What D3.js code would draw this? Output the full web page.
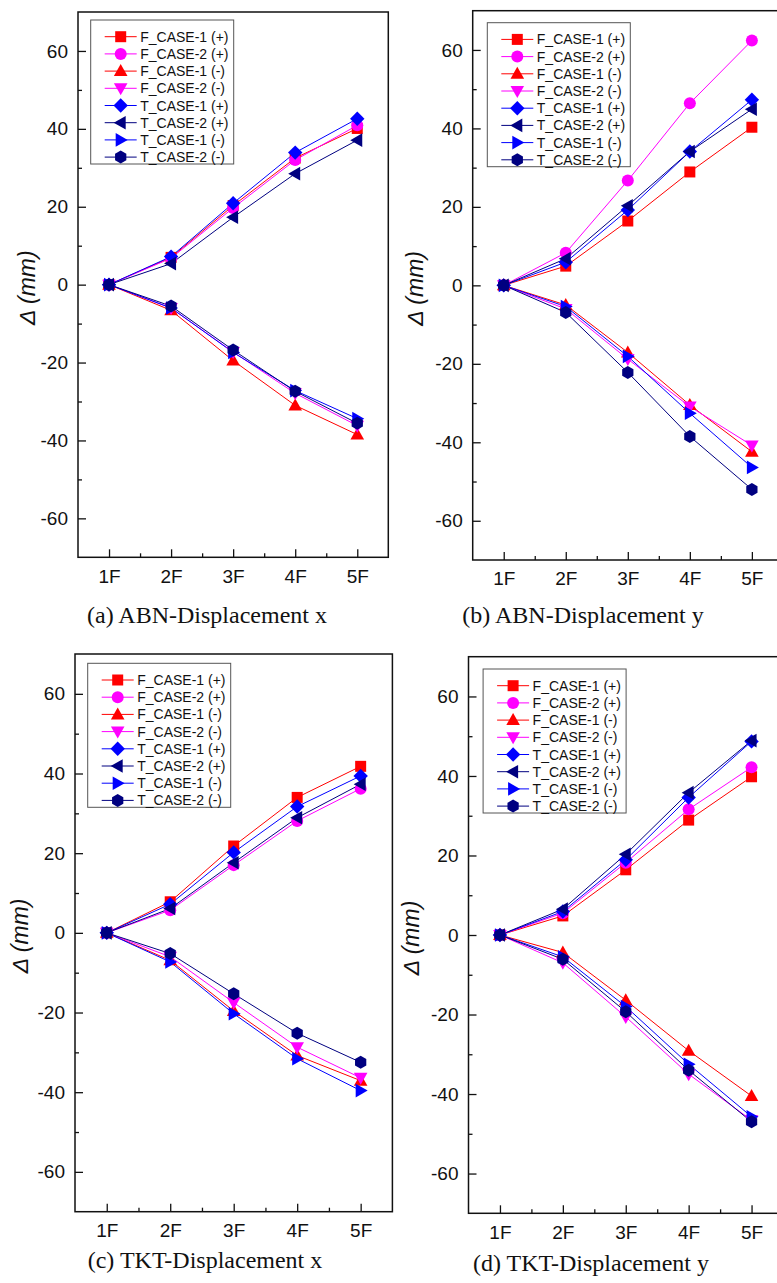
<!DOCTYPE html>
<html>
<head>
<meta charset="utf-8">
<script src="https://cdn.jsdelivr.net/npm/d3@7"></script>
<style>
  body { margin: 0; background: #fff; }
  svg { display: block; }
  .tick text { font-family: "Liberation Sans", Arial, sans-serif; font-size: 19px; fill: #111; }
  .legend text { font-family: "Liberation Sans", Arial, sans-serif; font-size: 14px; fill: #111; }
  .ylabel { font-family: "Liberation Sans", Arial, sans-serif; font-size: 23px; font-style: italic; fill: #111; }
  .caption { font-family: "Liberation Serif", "Times New Roman", serif; font-size: 24px; fill: #111; }
</style>
</head>
<body>
<svg width="777" height="1283"></svg>
<script>
const floors = ['1F', '2F', '3F', '4F', '5F'];
const seriesNames = ['F_CASE-1 (+)', 'F_CASE-2 (+)', 'F_CASE-1 (-)', 'F_CASE-2 (-)',
                     'T_CASE-1 (+)', 'T_CASE-2 (+)', 'T_CASE-1 (-)', 'T_CASE-2 (-)'];
const yTicks = [-60, -40, -20, 0, 20, 40, 60];
const yMinorTicks = [-50, -30, -10, 10, 30, 50];
const captions = ['(a) ABN-Displacement x', '(b) ABN-Displacement y',
                  '(c) TKT-Displacement x', '(d) TKT-Displacement y'];

// one row per series, in the order of seriesNames
const abnX = [
  [0, 7.0, 20.3, 32.5, 40.1],
  [0, 6.8, 19.7, 32.0, 40.9],
  [0, -6.6, -19.5, -31.0, -38.5],
  [0, -6.0, -17.3, -27.9, -36.2],
  [0, 7.2, 20.9, 33.9, 42.6],
  [0, 5.4, 17.3, 28.5, 37.1],
  [0, -6.0, -17.4, -27.2, -34.4],
  [0, -5.5, -16.8, -27.4, -35.6]
];
const abnY = [
  [0, 4.9, 16.4, 28.9, 40.3],
  [0, 8.3, 26.7, 46.4, 62.4],
  [0, -5.0, -17.1, -30.5, -42.4],
  [0, -6.0, -18.8, -30.9, -40.8],
  [0, 5.9, 19.2, 34.1, 47.3],
  [0, 6.8, 20.3, 34.1, 44.9],
  [0, -5.4, -18.1, -32.6, -46.4],
  [0, -6.9, -22.2, -38.5, -52.0]
];
const tktX = [
  [0, 7.8, 21.8, 34.0, 41.8],
  [0, 5.7, 17.0, 28.1, 36.2],
  [0, -6.9, -19.6, -30.8, -37.1],
  [0, -6.0, -17.5, -28.7, -36.4],
  [0, 7.2, 20.2, 31.7, 39.4],
  [0, 6.1, 17.6, 28.9, 37.3],
  [0, -7.3, -20.3, -31.6, -39.6],
  [0, -5.2, -15.3, -25.2, -32.5]
];
const tktY = [
  [0, 4.8, 16.4, 28.9, 39.8],
  [0, 5.5, 18.2, 31.6, 42.2],
  [0, -4.4, -16.4, -29.1, -40.5],
  [0, -7.0, -20.6, -35.0, -46.6],
  [0, 5.9, 18.9, 34.6, 48.7],
  [0, 6.5, 20.3, 35.8, 48.9],
  [0, -5.5, -18.0, -32.5, -45.7],
  [0, -6.1, -19.3, -34.0, -47.0]
];
const panelData = [abnX, abnY, tktX, tktY];

// styles per series
const colors = ['#ff0000', '#ff00ff', '#ff0000', '#ff00ff', '#0000ff', '#000080', '#0000ff', '#000080'];
const shapes = ['square', 'circle', 'up', 'down', 'diamond', 'left', 'right', 'hexagon'];

// plot frames: left, top, right, bottom
const frames = [
  {l: 78, t: 12, r: 388.3, b: 557.3, legX: 12.7, legY: 8, labX: 51, capX: 207, capY: 623},
  {l: 472.7, t: 10.7, r: 782.9, b: 560, legX: 14.6, legY: 12, labX: 57.5, capX: 583, capY: 623},
  {l: 75, t: 654, r: 392.4, b: 1211.7, legX: 12.7, legY: 9.3, labX: 55, capX: 205, capY: 1268},
  {l: 468.5, t: 656.7, r: 783, b: 1213.3, legX: 14.6, legY: 12.3, labX: 57.3, capX: 591, capY: 1271}
];

const markerPath = (shape) => {
  switch (shape) {
    case 'square': return 'M-5.5,-5.5H5.5V5.5H-5.5Z';
    case 'circle': return d3.symbol(d3.symbolCircle, Math.PI * 36)();
    case 'up': return 'M0,-7L6.8,5L-6.8,5Z';
    case 'down': return 'M0,7L6.8,-5L-6.8,-5Z';
    case 'diamond': return 'M0,-7.2L7.2,0L0,7.2L-7.2,0Z';
    case 'left': return 'M-7,0L5,-6.8L5,6.8Z';
    case 'right': return 'M7,0L-5,-6.8L-5,6.8Z';
    case 'hexagon': {
      const r = 6.5;
      return d3.range(6).map((i, k) => {
        const a = Math.PI / 3 * i - Math.PI / 2;
        return (k ? 'L' : 'M') + (r * Math.cos(a)).toFixed(2) + ',' + (r * Math.sin(a)).toFixed(2);
      }).join('') + 'Z';
    }
  }
};

const svg = d3.select('svg');

const render = (series, f, caption) => {
  const x = d3.scaleLinear().domain([0.5, 5.5]).range([f.l, f.r]);
  const y = d3.scaleLinear().domain([-70, 70]).range([f.b, f.t]);
  const g = svg.append('g');

  // minor ticks
  g.append('g')
    .attr('transform', `translate(${f.l},0)`)
    .call(d3.axisLeft(y).tickValues(yMinorTicks).tickSize(-4).tickFormat(''))
    .call(s => s.select('.domain').remove());
  g.append('g')
    .attr('transform', `translate(0,${f.b})`)
    .call(d3.axisBottom(x).tickValues([1.5, 2.5, 3.5, 4.5]).tickSize(-4).tickFormat(''))
    .call(s => s.select('.domain').remove());

  // major ticks, plain hyphen for negatives
  g.append('g')
    .attr('transform', `translate(${f.l},0)`)
    .call(d3.axisLeft(y).tickValues(yTicks).tickSize(-8).tickPadding(10)
      .tickFormat(d => String(d)))
    .call(s => s.select('.domain').remove());
  g.append('g')
    .attr('transform', `translate(0,${f.b})`)
    .call(d3.axisBottom(x).tickValues([1, 2, 3, 4, 5]).tickSize(-8).tickPadding(12)
      .tickFormat(d => floors[d - 1]))
    .call(s => s.select('.domain').remove());
  g.selectAll('.tick line').attr('stroke', '#111').attr('stroke-width', 1.3);

  g.append('rect')
    .attr('x', f.l).attr('y', f.t)
    .attr('width', f.r - f.l).attr('height', f.b - f.t)
    .attr('fill', 'none').attr('stroke', '#111').attr('stroke-width', 1.5);

  const line = d3.line().x((d, i) => x(i + 1)).y(d => y(d));

  series.forEach((vals, si) => {
    g.append('path')
      .datum(vals)
      .attr('d', line)
      .attr('fill', 'none')
      .attr('stroke', colors[si])
      .attr('stroke-width', 1);
  });
  series.forEach((vals, si) => {
    g.selectAll(null).data(vals).enter().append('path')
      .attr('transform', (d, i) => `translate(${x(i + 1)},${y(d)})`)
      .attr('d', markerPath(shapes[si]))
      .attr('fill', colors[si]);
  });

  // legend
  const lg = g.append('g').attr('class', 'legend')
    .attr('transform', `translate(${f.l + f.legX},${f.t + f.legY})`);
  lg.append('rect').attr('width', 143).attr('height', 144)
    .attr('fill', '#fff').attr('stroke', '#555').attr('stroke-width', 1);
  seriesNames.forEach((name, si) => {
    const row = lg.append('g').attr('transform', `translate(0,${16.7 + si * 17.2})`);
    row.append('line').attr('x1', 14).attr('x2', 46)
      .attr('stroke', colors[si]).attr('stroke-width', 1);
    row.append('path').attr('transform', 'translate(30,0)')
      .attr('d', markerPath(shapes[si])).attr('fill', colors[si]);
    row.append('text').attr('x', 49.5).attr('dy', '0.36em').text(name);
  });

  g.append('text')
    .attr('class', 'ylabel')
    .attr('transform', `translate(${f.l - f.labX},${(f.t + f.b) / 2 + 3}) rotate(-90)`)
    .attr('text-anchor', 'middle')
    .attr('dy', '0.36em')
    .text('Δ (mm)');

  g.append('text')
    .attr('class', 'caption')
    .attr('x', f.capX).attr('y', f.capY)
    .attr('text-anchor', 'middle')
    .text(caption);
};

panelData.forEach((series, i) => render(series, frames[i], captions[i]));
</script>
</body>
</html>
